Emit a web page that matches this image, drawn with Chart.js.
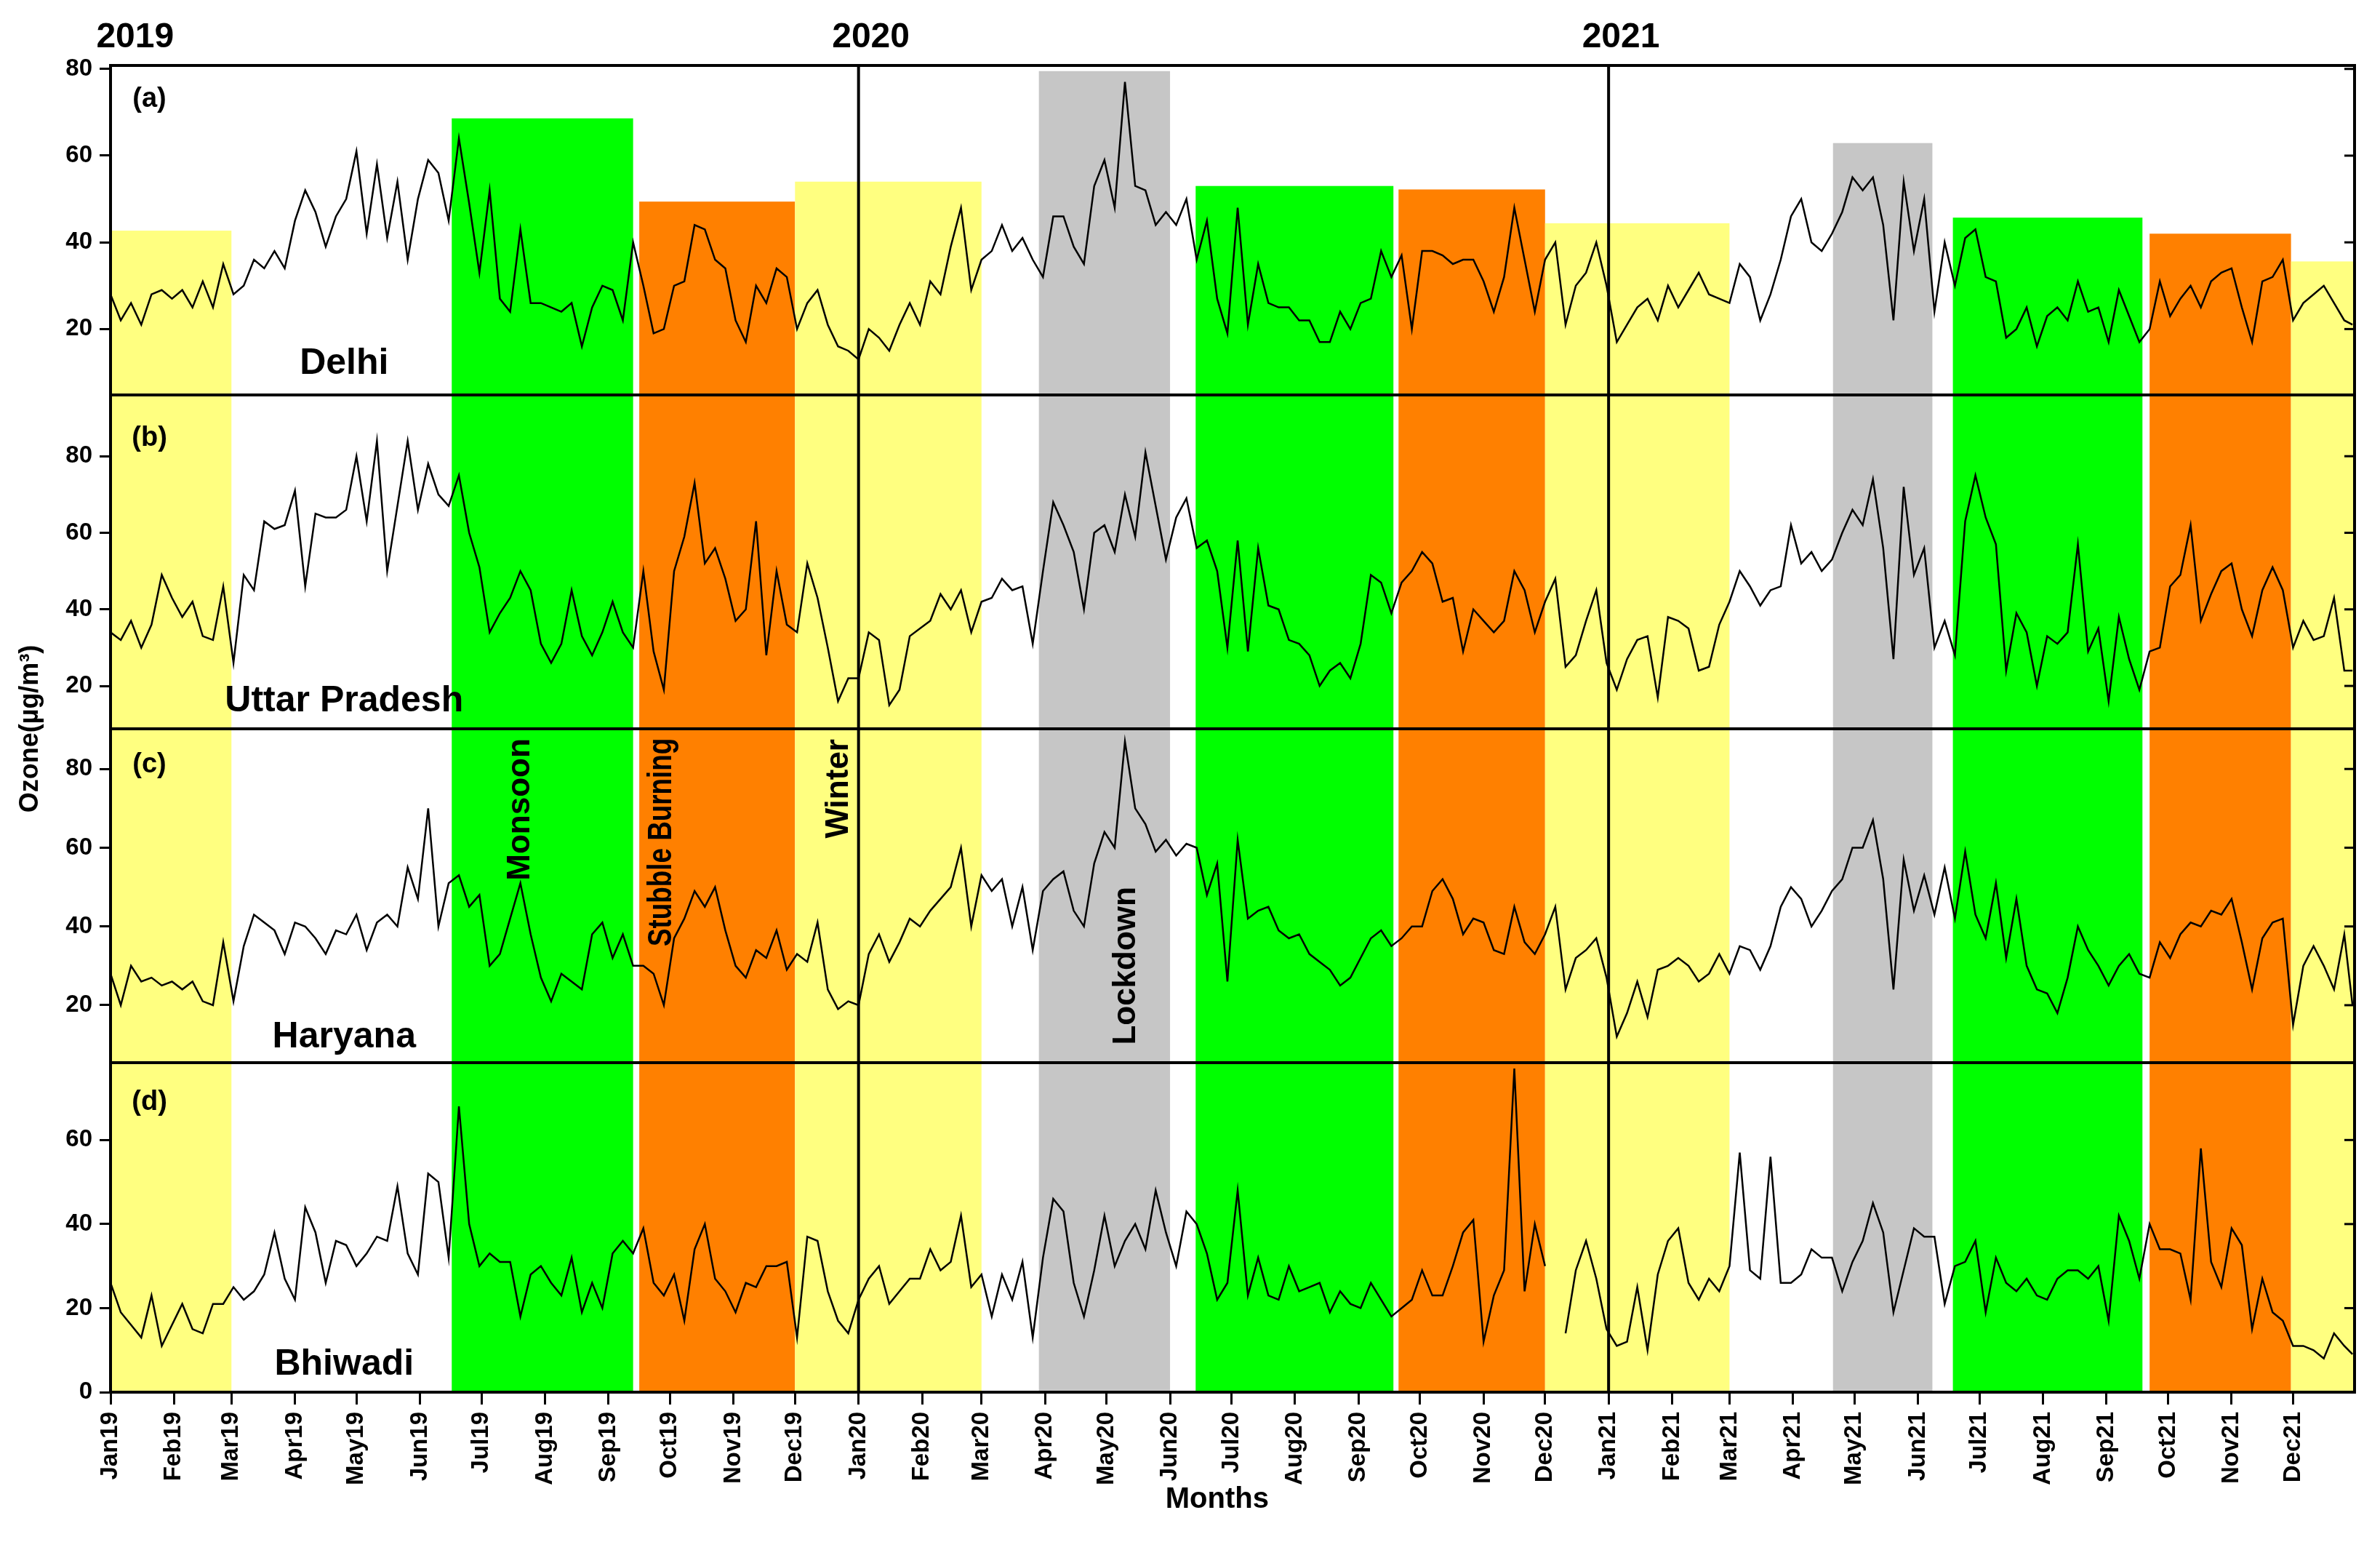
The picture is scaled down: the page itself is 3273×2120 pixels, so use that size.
<!DOCTYPE html>
<html>
<head>
<meta charset="utf-8">
<script src="https://cdn.jsdelivr.net/npm/chart.js@4.4.1/dist/chart.umd.min.js"></script>
<style>
  html, body { margin: 0; padding: 0; background: #fff; }
  #wrap { width: 3273px; height: 2120px; }
</style>
</head>
<body>
<div id="wrap"><canvas id="chart" width="3273" height="2120"></canvas></div>
<script>
// ozone (µg/m3), every 5th day
var delhi2019 = [28,22,26,21,28,29,27,29,25,31,25,35,28,30,36,34,38,34,45,52,47,39,46,50,61,42,58,41,54,36,50,59,56,45,64,49,33,52,27,24,43,26,26,25,24,26,16,25,30,29,22,40,30,19,20,30,31,44,43,36,34,22,17,30,26,34,32,20,26,29,21,16,15]
var delhi2020 = [13,20,18,15,21,26,21,31,28,39,48,29,36,38,44,38,41,36,32,46,46,39,35,53,59,48,77,53,52,44,47,44,50,36,45,27,19,48,21,35,26,25,25,22,22,17,17,24,20,26,27,38,32,37,20,38,38,37,35,36,36,31,24,32,48,36,24,36,40,21,30,33,40,30]
var delhi2021 = [17,21,25,27,22,30,25,29,33,28,27,26,35,32,22,28,36,46,50,40,38,42,47,55,52,55,44,22,54,38,50,24,40,30,41,43,32,31,18,20,25,16,23,25,22,31,24,25,17,29,23,17,20,31,23,27,30,25,31,33,34,25,17,31,32,36,22,26,28,30,26,22,21]

var up2019 = [34,32,37,30,36,49,43,38,42,33,32,46,26,49,45,63,61,62,71,46,65,64,64,66,80,63,84,50,67,84,66,78,70,67,75,60,51,34,39,43,50,45,31,26,31,45,33,28,34,42,34,30,50,29,19,50,59,73,52,56,48,37,40,63,28,50,36,34,52,43,30,16,22]
var up2020 = [22,34,32,15,19,33,35,37,44,40,45,34,42,43,48,45,46,31,50,68,62,55,40,60,62,55,70,59,81,67,53,64,69,56,58,50,30,58,29,56,41,40,32,31,28,20,24,26,22,31,49,47,39,47,50,55,52,42,43,29,40,37,34,37,50,45,34,42,48,25,28,37,45,26]
var up2021 = [19,27,32,33,17,38,37,35,24,25,36,42,50,46,41,45,46,62,52,55,50,53,60,66,62,74,56,27,72,49,56,30,37,28,63,75,64,57,24,39,34,20,33,31,34,57,29,35,16,38,27,19,29,30,46,49,62,37,44,50,52,40,33,45,51,45,30,37,32,33,43,24,24]

var haryana2019 = [28,20,30,26,27,25,26,24,26,21,20,36,21,35,43,41,39,33,41,40,37,33,39,38,43,34,41,43,40,55,47,70,40,51,53,45,48,30,33,42,51,38,27,21,28,26,24,38,41,32,38,30,30,28,20,37,42,49,45,50,39,30,27,34,32,39,29,33,31,41,24,19,21]
var haryana2020 = [20,33,38,31,36,42,40,44,47,50,60,40,53,49,52,40,50,34,49,52,54,44,40,56,64,60,87,70,66,59,62,58,61,60,48,56,26,62,42,44,45,39,37,38,33,31,29,25,27,32,37,39,35,37,40,40,49,52,47,38,42,41,34,33,45,36,33,38,45,24,32,34,37,27]
var haryana2021 = [12,18,26,17,29,30,32,30,26,28,33,28,35,34,29,35,45,50,47,40,44,49,52,60,60,67,52,24,57,44,53,43,55,42,59,43,37,51,32,47,30,24,23,18,27,40,34,30,25,30,33,28,27,36,32,38,41,40,44,43,47,36,24,37,41,42,15,30,35,30,24,38,20]

var bhiwadi2019 = [26,19,16,13,23,11,16,21,15,14,21,21,25,22,24,28,38,27,22,44,38,26,36,35,30,33,37,36,49,33,28,52,50,32,68,40,30,33,31,31,18,28,30,26,23,32,19,26,20,33,36,33,39,26,23,28,17,34,40,27,24,19,26,25,30,30,31,13,37,36,24,17,14]
var bhiwadi2020 = [22,27,30,21,24,27,27,34,29,31,42,25,28,18,28,22,31,13,32,46,43,26,18,29,42,30,36,40,34,48,38,30,43,40,33,22,26,48,23,32,23,22,30,24,25,26,19,24,21,20,26,22,18,20,22,29,23,23,30,38,41,12,23,29,77,24,40,30,null,14,29,36,27,15]
var bhiwadi2021 = [11,12,25,10,28,36,39,26,22,27,24,30,57,29,27,56,26,26,28,34,32,32,24,31,36,45,38,19,29,39,37,37,21,30,31,36,19,32,26,24,27,23,22,27,29,29,27,30,17,42,36,27,40,34,34,33,22,58,31,25,39,35,15,27,19,17,11,11,10,8,14,11,9]

var panelNames = ['Delhi', 'Uttar Pradesh', 'Haryana', 'Bhiwadi']
var panelTags = ['(a)', '(b)', '(c)', '(d)']
var yearLabels = ['2019', '2020', '2021']
var monthNames = ['Jan', 'Feb', 'Mar', 'Apr', 'May', 'Jun', 'Jul', 'Aug', 'Sep', 'Oct', 'Nov', 'Dec']
var yTicks = [[20, 40, 60, 80], [20, 40, 60, 80], [20, 40, 60, 80], [0, 20, 40, 60]]

// seasons, in days since 1 Jan 2019; seasonTopA = height of the box in panel (a)
var seasonKind = ['winter', 'monsoon', 'stubble', 'winter', 'lockdown', 'monsoon', 'stubble', 'winter', 'lockdown', 'monsoon', 'stubble', 'winter']
var seasonStart = [0, 166.5, 258, 334, 453, 529.5, 628.5, 700, 840.5, 899, 995, 1064]
var seasonEnd = [59, 255, 334, 425, 517, 626, 700, 790, 889, 991.5, 1064, 1095]
var seasonTopA = [42.7, 68.6, 49.4, 54, 79.5, 53, 52.2, 44.4, 62.9, 45.7, 42, 35.6]

var FONT = "'Liberation Sans', Arial, sans-serif"
var seasonColor = { winter: '#ffff80', monsoon: '#00ff00', stubble: '#ff8000', lockdown: '#c6c6c6' }

var yIds = ['ya', 'yb', 'yc', 'yd']
var yRange = [[4.8, 80.8], [8.8, 96], [5.4, 90.2], [0, 78.4]]
var yWeight = [453, 459, 459, 453]

function dayIndex(yearStart, first, n) {
    var out = []
    for (var i = 0; i < n; i++) out.push(Math.min(yearStart + first + i * 5, 1094))
    return out
}
var days = [].concat(dayIndex(0, 0, 73), dayIndex(365, 0, 74), dayIndex(731, 4, 73))

var series = [
    [].concat(delhi2019, delhi2020, delhi2021),
    [].concat(up2019, up2020, up2021),
    [].concat(haryana2019, haryana2020, haryana2021),
    [].concat(bhiwadi2019, bhiwadi2020, bhiwadi2021)
]

var monthTicks = []
var monthLabels = []
;[2019, 2020, 2021].forEach(function(y) {
    monthNames.forEach(function(m, k) {
        monthTicks.push((Date.UTC(y, k, 1) - Date.UTC(2019, 0, 1)) / 86400000)
        monthLabels.push(m + String(y).slice(2))
    })
})
var yearStarts = [0, 365, 731]

function yScale(i) {
    return {
        type: 'linear',
        position: 'left',
        stack: 'panels',
        stackWeight: yWeight[i],
        min: yRange[i][0],
        max: yRange[i][1],
        afterFit: function(s) { s.width = 152 },
        afterBuildTicks: function(s) { s.ticks = yTicks[i].map(function(v) { return { value: v } }) },
        grid: { drawOnChartArea: false, drawTicks: true, tickLength: 15, tickWidth: 3, tickColor: '#000' },
        border: { display: true, color: '#000', width: 4 },
        ticks: { color: '#000', padding: 10, font: { family: FONT, size: 33, weight: 'bold' } }
    }
}

// squeeze < 1 narrows the text along its baseline
function label(ctx, str, x, y, size, rotate, squeeze) {
    ctx.save()
    ctx.translate(x, y)
    if (rotate) ctx.rotate(-Math.PI / 2)
    if (squeeze) ctx.scale(squeeze, 1)
    ctx.font = 'bold ' + size + 'px ' + FONT
    ctx.fillStyle = '#000'
    ctx.textAlign = 'center'
    ctx.textBaseline = 'middle'
    ctx.fillText(str, 0, 0)
    ctx.restore()
}

var panelsPlugin = {
    id: 'panels',
    beforeDatasetsDraw: function(chart) {
        var ctx = chart.ctx, x = chart.scales.x
        ctx.save()
        seasonKind.forEach(function(kind, j) {
            var x1 = x.getPixelForValue(seasonStart[j])
            var x2 = x.getPixelForValue(seasonEnd[j])
            ctx.fillStyle = seasonColor[kind]
            yIds.forEach(function(id, p) {
                var s = chart.scales[id]
                var top = p === 0 ? s.getPixelForValue(seasonTopA[j]) : s.top
                ctx.fillRect(x1, top, x2 - x1, s.bottom - top)
            })
        })
        ctx.restore()
    },
    afterDatasetsDraw: function(chart) {
        var ctx = chart.ctx, a = chart.chartArea, x = chart.scales.x
        ctx.save()
        ctx.strokeStyle = '#000'
        // mirrored ticks on the right edge
        ctx.lineWidth = 3
        yIds.forEach(function(id, p) {
            var s = chart.scales[id]
            yTicks[p].forEach(function(v) {
                var py = s.getPixelForValue(v)
                ctx.beginPath(); ctx.moveTo(a.right - 14, py); ctx.lineTo(a.right, py); ctx.stroke()
            })
        })
        ctx.lineWidth = 4
        // panel separators
        yIds.slice(0, 3).forEach(function(id) {
            var yb = chart.scales[id].bottom
            ctx.beginPath(); ctx.moveTo(a.left, yb); ctx.lineTo(a.right, yb); ctx.stroke()
        })
        // year lines
        yearStarts.slice(1).forEach(function(d) {
            var px = x.getPixelForValue(d)
            ctx.beginPath(); ctx.moveTo(px, a.top); ctx.lineTo(px, a.bottom); ctx.stroke()
        })
        ctx.strokeRect(a.left, a.top, a.right - a.left, a.bottom - a.top)
        ctx.restore()

        // panel tags and names
        var tagPos = [73, 84.7, 81, 68.9]
        var namePos = [12, 15.9, 11.8, 6.5]
        yIds.forEach(function(id, p) {
            var s = chart.scales[id]
            label(ctx, panelTags[p], x.getPixelForValue(19), s.getPixelForValue(tagPos[p]), 38)
            label(ctx, panelNames[p], x.getPixelForValue(114), s.getPixelForValue(namePos[p]), 50)
        })
        // season labels, panel (c)
        var yc = chart.scales.yc
        label(ctx, 'Monsoon', x.getPixelForValue(200), yc.getPixelForValue(69.7), 44, true)
        label(ctx, 'Stubble Burning', x.getPixelForValue(269), yc.getPixelForValue(61.4), 46, true, 0.8)
        label(ctx, 'Winter', x.getPixelForValue(355.6), yc.getPixelForValue(75), 44, true)
        label(ctx, 'Lockdown', x.getPixelForValue(495.5), yc.getPixelForValue(30), 44, true)
    },
    afterDraw: function(chart) {
        var ctx = chart.ctx, a = chart.chartArea, x = chart.scales.x
        var yearPos = [12, 371, 737]
        yearLabels.forEach(function(t, k) {
            label(ctx, t, x.getPixelForValue(yearPos[k]), a.top - 38, 48)
        })
        label(ctx, 'Ozone(\u00b5g/m\u00b3)', 42, (a.top + a.bottom) / 2, 36, true)
        label(ctx, 'Months', x.getPixelForValue(540), 2062, 40)
    }
}

var datasets = series.map(function(vals, p) {
    return {
        data: vals.map(function(v, i) { return { x: days[i], y: v } }),
        yAxisID: yIds[p],
        borderColor: '#000',
        borderWidth: 2.5,
        pointRadius: 0,
        tension: 0,
        spanGaps: false
    }
})

var scales = {
    x: {
        type: 'linear',
        min: 0,
        max: 1095,
        afterFit: function(s) { s.height = 206 },
        afterBuildTicks: function(s) { s.ticks = monthTicks.map(function(v) { return { value: v } }) },
        grid: { drawOnChartArea: false, drawTicks: true, tickLength: 17, tickWidth: 3, tickColor: '#000' },
        border: { display: true, color: '#000', width: 4 },
        ticks: {
            color: '#000', padding: 10, autoSkip: false, minRotation: 90, maxRotation: 90,
            font: { family: FONT, size: 33, weight: 'bold' },
            callback: function(v, i) { return monthLabels[i] }
        }
    }
}
// last defined left axis sits on top of the stack
scales.yd = yScale(3)
scales.yc = yScale(2)
scales.yb = yScale(1)
scales.ya = yScale(0)

new Chart(document.getElementById('chart'), {
    type: 'line',
    data: { datasets: datasets },
    options: {
        responsive: false,
        devicePixelRatio: 1,
        animation: false,
        layout: { padding: { left: 0, top: 90, right: 35, bottom: 0 } },
        plugins: { legend: { display: false }, tooltip: { enabled: false } },
        scales: scales
    },
    plugins: [panelsPlugin]
})
</script>
</body>
</html>
